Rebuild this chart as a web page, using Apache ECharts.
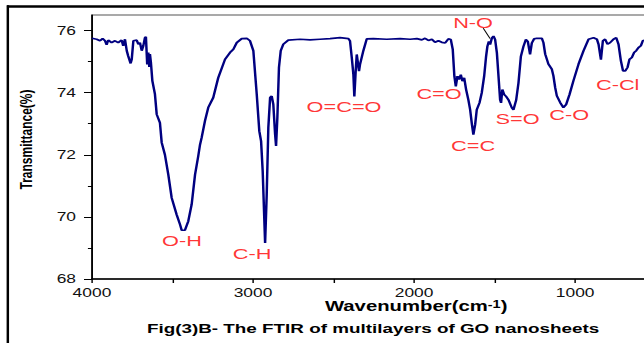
<!DOCTYPE html>
<html>
<head>
<meta charset="utf-8">
<script src="https://cdn.jsdelivr.net/npm/echarts@6/dist/echarts.min.js"></script>
<style>
  html, body { margin: 0; padding: 0; background: #fff; overflow: hidden; }
  #wrap { width: 644px; height: 343px; overflow: hidden; }
  /* the source figure is stretched sideways, so draw narrow and stretch */
  #main { width: 460px; height: 343px; transform: scaleX(1.4505); transform-origin: 0 0; }
</style>
</head>
<body>
<div id="wrap"><div id="main"></div></div>
<script>
// FTIR spectrum
const wavenumber = [
  4000, 3971, 3950, 3934, 3919, 3909, 3899, 3878, 3857, 3837, 3816, 3806, 3795, 3784, 3775, 3760,
  3753, 3743, 3722, 3712, 3702, 3691, 3681, 3671, 3665, 3657, 3650, 3644, 3640, 3634, 3625, 3609,
  3598, 3578, 3567, 3547, 3526, 3505, 3474, 3453, 3443, 3423, 3402, 3381, 3360, 3340, 3329, 3319,
  3298, 3278, 3247, 3216, 3174, 3143, 3122, 3101, 3070, 3039, 3019, 2998, 2977, 2961, 2950, 2940,
  2925, 2915, 2905, 2894, 2884, 2874, 2863, 2857, 2849, 2839, 2828, 2812, 2781, 2708, 2646, 2584,
  2522, 2460, 2408, 2398, 2387, 2377, 2371, 2362, 2356, 2342, 2336, 2315, 2294, 2253, 2170, 2087,
  2025, 1983, 1952, 1932, 1911, 1890, 1870, 1849, 1828, 1807, 1787, 1772, 1760, 1750, 1741, 1731,
  1721, 1710, 1700, 1689, 1677, 1663, 1652, 1642, 1632, 1621, 1611, 1594, 1580, 1565, 1553, 1545,
  1536, 1528, 1517, 1507, 1497, 1486, 1476, 1466, 1460, 1452, 1441, 1429, 1414, 1393, 1383, 1366,
  1352, 1337, 1321, 1306, 1294, 1280, 1269, 1255, 1238, 1207, 1197, 1186, 1166, 1145, 1135, 1124,
  1114, 1093, 1073, 1056, 1035, 1011, 979, 948, 917, 886, 865, 855, 840, 828, 814, 799,
  783, 762, 745, 731, 716, 703, 689, 675, 663, 648, 634, 621, 607, 592, 580, 567
];
const transmittance = [
  75.75, 75.72, 75.67, 75.74, 75.67, 75.54, 75.69, 75.61, 75.67, 75.61, 75.69, 75.51, 75.72, 75.35, 75.18, 74.94,
  75.07, 75.67, 75.69, 75.56, 75.61, 75.35, 75.51, 75.77, 75.80, 74.91, 75.29, 74.83, 75.24, 74.97, 74.38, 73.95,
  73.30, 73.03, 72.39, 72.00, 71.36, 70.61, 70.07, 69.75, 69.57, 69.57, 69.86, 70.40, 71.36, 71.96, 72.33, 72.55,
  73.10, 73.52, 73.84, 74.48, 75.07, 75.29, 75.40, 75.61, 75.74, 75.75, 75.67, 75.35, 73.95, 72.76, 72.44, 71.47,
  69.16, 70.72, 72.87, 73.84, 73.89, 73.62, 72.66, 72.28, 73.19, 74.81, 75.35, 75.56, 75.69, 75.72, 75.70, 75.72,
  75.74, 75.77, 75.74, 75.67, 75.13, 74.59, 73.88, 74.75, 75.23, 74.69, 74.90, 75.35, 75.73, 75.74, 75.72, 75.74,
  75.72, 75.74, 75.70, 75.75, 75.68, 75.72, 75.62, 75.67, 75.62, 75.60, 75.73, 75.71, 75.39, 74.53, 74.20, 74.53,
  74.42, 74.58, 74.37, 74.48, 74.10, 73.77, 73.45, 73.02, 72.65, 72.97, 73.45, 73.67, 73.99, 74.53, 75.17, 75.49,
  75.65, 75.55, 75.76, 75.82, 75.71, 75.28, 74.53, 73.77, 73.67, 74.10, 73.94, 73.88, 73.77, 73.51, 73.45, 73.77,
  74.31, 75.17, 75.49, 75.71, 75.65, 75.23, 75.60, 75.73, 75.75, 75.75, 75.61, 75.24, 74.92, 74.76, 74.54, 74.16,
  73.90, 73.68, 73.52, 73.62, 73.94, 74.38, 74.92, 75.35, 75.72, 75.77, 75.72, 75.56, 75.06, 75.67, 75.72, 75.56,
  75.61, 75.72, 75.77, 75.56, 75.02, 74.70, 74.70, 74.81, 75.07, 75.13, 75.29, 75.35, 75.45, 75.51, 75.67, 75.69
];

// band labels and where they sit
const bandNames = ['O-H', 'C-H', 'O=C=O', 'C=O', 'N-O', 'C=C', 'S=O', 'C-O', 'C-Cl'];
const bandWn = [3441, 3006, 2435, 1845, 1634, 1634, 1357, 1037, 736];
const bandT = [69.23, 68.81, 73.55, 73.97, 76.26, 72.29, 73.16, 73.29, 74.26];
const leaderFrom = [1571, 76.08];
const leaderTo = [1528, 75.74];

const xTickLabels = [4000, 3000, 2000, 1000];
const yTickLabels = [68, 70, 72, 74, 76];
const yMinorTicks = [69, 71, 73, 75];

const font = 'Liberation Sans';
const chart = echarts.init(document.getElementById('main'), null, { renderer: 'svg' });

const option = {
  animation: false,
  backgroundColor: '#fff',
  grid: {
    left: 63.4, right: 7.95, top: 15, bottom: 64,
    show: true, borderColor: '#555', borderWidth: 1
  },
  xAxis: {
    type: 'value', inverse: true, min: 500, max: 4000, interval: 500,
    axisLine: { lineStyle: { color: '#000', width: 1.5 } },
    axisTick: { length: 4, lineStyle: { color: '#000', width: 1 } },
    axisLabel: {
      customValues: xTickLabels, margin: 8,
      formatter: v => String(v),
      color: '#111', fontSize: 12, fontFamily: font
    },
    splitLine: { show: false }
  },
  yAxis: [
    {
      type: 'value', min: 68, max: 76.5, position: 'left',
      axisLine: { show: true, lineStyle: { color: '#000', width: 1.2 } },
      axisTick: { show: true, customValues: yTickLabels, length: 5.5, lineStyle: { color: '#000', width: 1 } },
      axisLabel: {
        customValues: yTickLabels, margin: 11,
        color: '#111', fontSize: 12, fontFamily: font
      },
      splitLine: { show: false }
    },
    {
      type: 'value', min: 68, max: 76.5, position: 'left',
      axisLine: { show: false },
      axisTick: { show: true, customValues: yMinorTicks, length: 2.8, lineStyle: { color: '#000', width: 1 } },
      axisLabel: { show: false },
      splitLine: { show: false }
    }
  ],
  series: [
    {
      type: 'line',
      data: wavenumber.map((w, i) => [w, transmittance[i]]),
      showSymbol: false,
      lineStyle: { color: '#000080', width: 1.7 },
      silent: true
    },
    {
      type: 'scatter',
      symbolSize: 0,
      silent: true,
      data: bandNames.map((n, i) => [bandWn[i], bandT[i], n]),
      label: {
        show: true, position: 'inside',
        formatter: p => p.data[2],
        color: '#ff0000', fontSize: 15, fontFamily: font
      },
      markLine: {
        silent: true, symbol: ['none', 'none'],
        label: { show: false },
        lineStyle: { color: '#000', width: 0.8, type: 'solid' },
        data: [[{ coord: leaderFrom }, { coord: leaderTo }]]
      }
    }
  ],
  graphic: [
    { type: 'line', shape: { x1: 5.4, y1: 5.3, x2: 5.4, y2: 343 }, style: { stroke: '#000', lineWidth: 1.7 } },
    { type: 'line', shape: { x1: 4.8, y1: 6.5, x2: 460, y2: 6.5 }, style: { stroke: '#000', lineWidth: 2.4 } },
    {
      type: 'text', x: 17.9, y: 139.5, rotation: Math.PI / 2,
      style: {
        text: 'Transmittance(%)', fill: '#000', fontSize: 12, fontWeight: 'bold',
        fontFamily: font, align: 'center', verticalAlign: 'middle'
      }
    },
    {
      type: 'text', x: 286.9, y: 306.5,
      style: {
        text: 'Wavenumber(cm{sup|-1})', fill: '#000', fontSize: 14, fontWeight: 'bold',
        fontFamily: font, align: 'center', verticalAlign: 'middle',
        rich: {
          sup: { fontSize: 10, fontWeight: 'bold', fontFamily: font, fill: '#000', verticalAlign: 'top', lineHeight: 10 }
        }
      }
    },
    {
      type: 'text', x: 257.2, y: 328,
      style: {
        text: 'Fig(3)B- The FTIR of multilayers of GO nanosheets', fill: '#000', fontSize: 13,
        fontWeight: 'bold', fontFamily: font, align: 'center', verticalAlign: 'middle'
      }
    }
  ]
};

chart.setOption(option);
</script>
</body>
</html>
